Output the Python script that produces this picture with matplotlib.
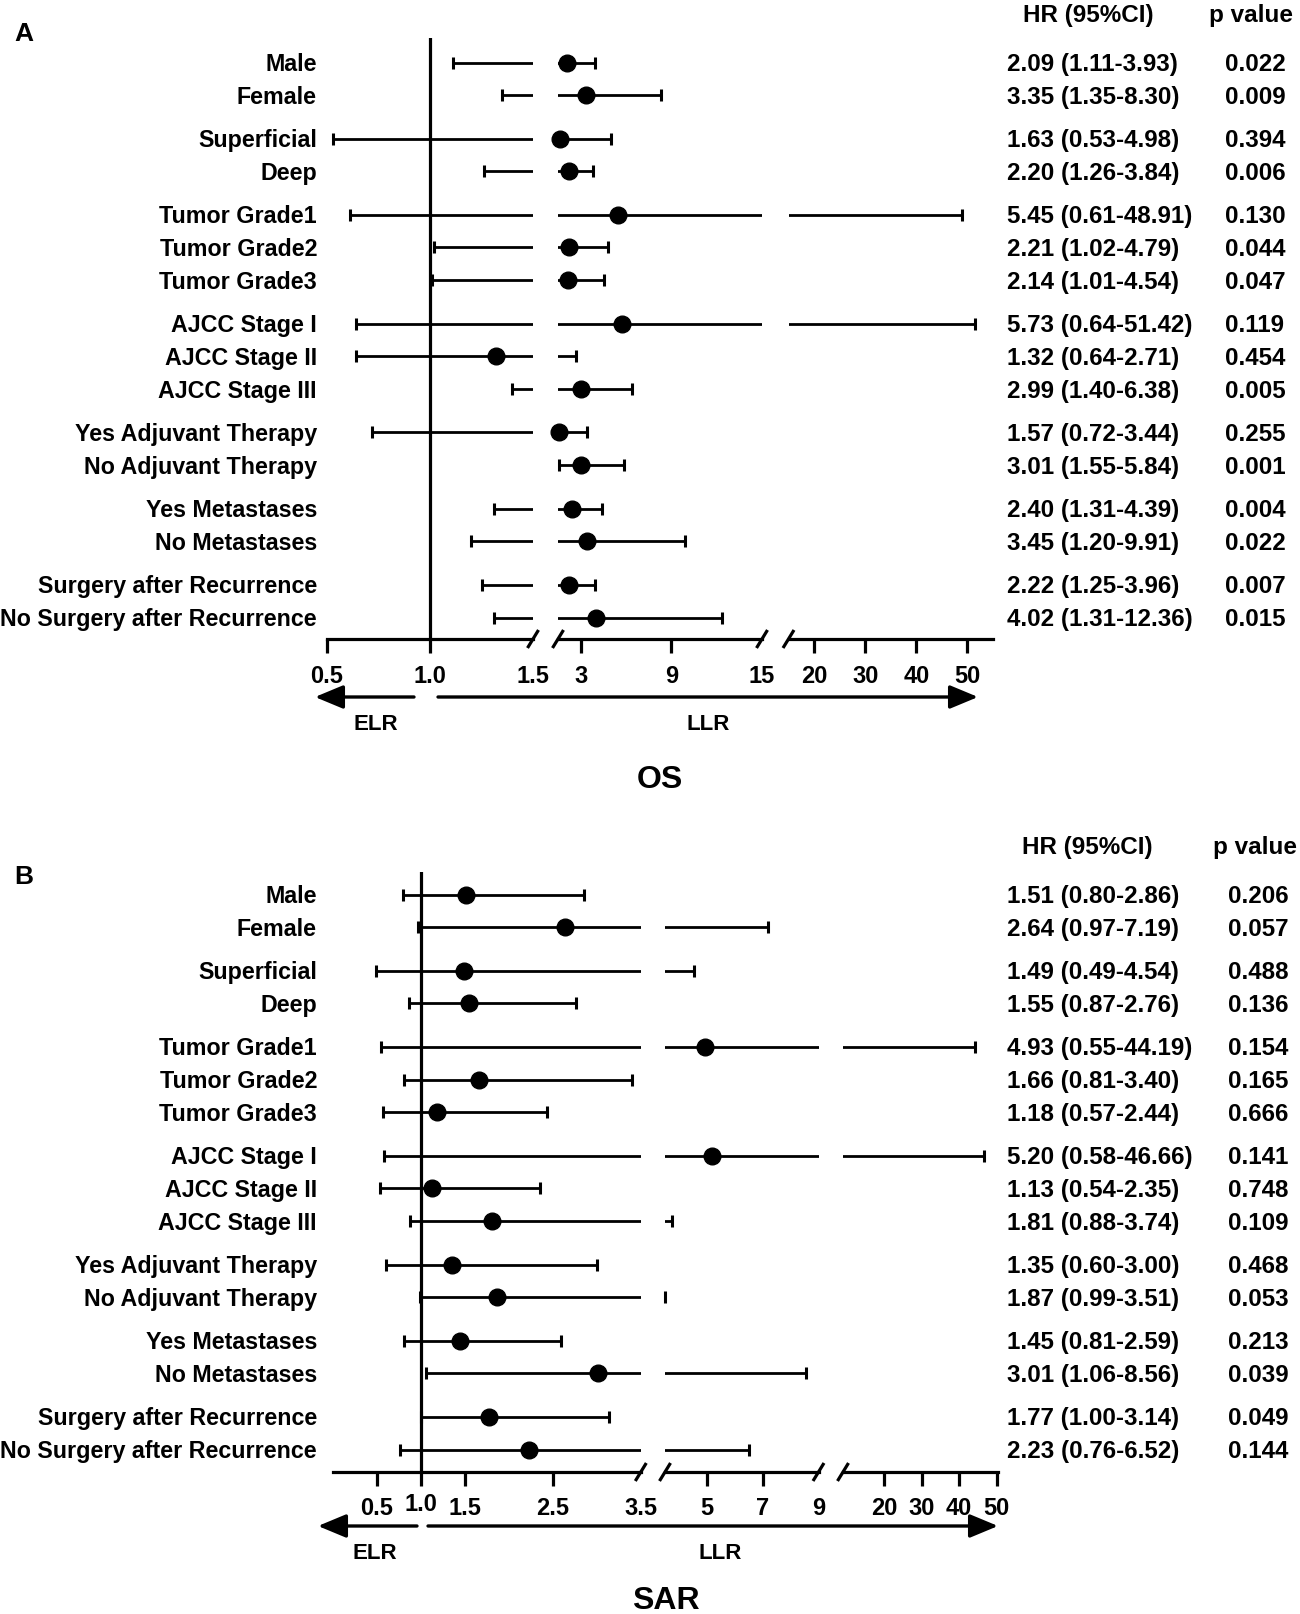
import matplotlib
matplotlib.use("Agg")
import matplotlib.pyplot as plt
import matplotlib.transforms as mtransforms
from matplotlib.patches import FancyArrowPatch
import numpy as np

plt.rcParams['font.family'] = ['Liberation Sans', 'DejaVu Sans']
plt.rcParams['font.weight'] = 'bold'

# ---------------- data ----------------
labels = ["Male", "Female", "Superficial", "Deep", "Tumor Grade1", "Tumor Grade2",
          "Tumor Grade3", "AJCC Stage I", "AJCC Stage II", "AJCC Stage III",
          "Yes Adjuvant Therapy", "No Adjuvant Therapy", "Yes Metastases",
          "No Metastases", "Surgery after Recurrence", "No Surgery after Recurrence"]
groups = [0, 0, 1, 1, 2, 2, 2, 3, 3, 3, 4, 4, 5, 5, 6, 6]

os_hr = [2.09, 3.35, 1.63, 2.20, 5.45, 2.21, 2.14, 5.73, 1.32, 2.99, 1.57, 3.01, 2.40, 3.45, 2.22, 4.02]
os_lo = [1.11, 1.35, 0.53, 1.26, 0.61, 1.02, 1.01, 0.64, 0.64, 1.40, 0.72, 1.55, 1.31, 1.20, 1.25, 1.31]
os_hi = [3.93, 8.30, 4.98, 3.84, 48.91, 4.79, 4.54, 51.42, 2.71, 6.38, 3.44, 5.84, 4.39, 9.91, 3.96, 12.36]
os_p = ["0.022", "0.009", "0.394", "0.006", "0.130", "0.044", "0.047", "0.119",
        "0.454", "0.005", "0.255", "0.001", "0.004", "0.022", "0.007", "0.015"]

sar_hr = [1.51, 2.64, 1.49, 1.55, 4.93, 1.66, 1.18, 5.20, 1.13, 1.81, 1.35, 1.87, 1.45, 3.01, 1.77, 2.23]
sar_lo = [0.80, 0.97, 0.49, 0.87, 0.55, 0.81, 0.57, 0.58, 0.54, 0.88, 0.60, 0.99, 0.81, 1.06, 1.00, 0.76]
sar_hi = [2.86, 7.19, 4.54, 2.76, 44.19, 3.40, 2.44, 46.66, 2.35, 3.74, 3.00, 3.51, 2.59, 8.56, 3.14, 6.52]
sar_p = ["0.206", "0.057", "0.488", "0.136", "0.154", "0.165", "0.666", "0.141",
         "0.748", "0.109", "0.468", "0.053", "0.213", "0.039", "0.049", "0.144"]

# axis segments (broken axis): data ranges
os_ranges = [(0.5, 1.5), (1.5, 15), (15, 55)]
os_ticks = [[0.5, 1.0, 1.5], [3, 9, 15], [20, 30, 40, 50]]
os_ticklabels = [["0.5", "1.0", "1.5"], ["3", "9", "15"], ["20", "30", "40", "50"]]
os_hidden = [1.5, 15]

sar_ranges = [(0, 3.5), (3.5, 9), (9, 50.4)]
sar_ticks = [[0.5, 1.0, 1.5, 2.5, 3.5], [5, 7, 9], [20, 30, 40, 50]]
sar_ticklabels = [["0.5", "1.0", "1.5", "2.5", "3.5"], ["5", "7", "9"], ["20", "30", "40", "50"]]
sar_hidden = [3.5, 9]

# ---------------- layout ----------------
W, H = 1300, 1614
fig = plt.figure(figsize=(W / 100, H / 100), dpi=100)
FS = 17
LW = 2.3


def fx(x):
    return x / W


def fy(y):
    return 1 - y / H


def panel(top_px, axis_px, row0_px, rowN_px, seg_px, ranges, ticks, ticklabels, hidden,
          hr, lo, hi, pv, tick_pad, hr_x, p_x, raise_one=False):
    hr = np.array(hr); lo = np.array(lo); hi = np.array(hi)
    pos = np.arange(len(labels)) + 0.3125 * np.array(groups)
    u = (rowN_px - row0_px) / pos[-1]
    ylim = (pos[-1] + (axis_px - rowN_px) / u, -(row0_px - top_px) / u)
    axes = []
    nseg = len(ranges)
    for i, ((a, b), (x0, x1)) in enumerate(zip(ranges, seg_px)):
        ax = fig.add_axes([fx(x0), fy(axis_px), (x1 - x0) / W, (axis_px - top_px) / H])
        ax.set_xlim(a, b)
        ax.set_ylim(ylim)
        ax.patch.set_visible(False)
        for s in ['top', 'right', 'left']:
            ax.spines[s].set_visible(False)
        ax.spines['bottom'].set_linewidth(LW)
        ax.set_yticks([])
        # CI lines (clipped to the segment)
        ax.hlines(pos, lo, hi, color='black', lw=2.0)
        # caps only where the CI end lies inside this segment
        ends = np.concatenate([lo, hi])
        epos = np.concatenate([pos, pos])
        if i == 0:
            me = (ends >= a) & (ends <= b)
        else:
            me = (ends > a) & (ends <= b)
        ax.plot(ends[me], epos[me], linestyle='none', marker='|', ms=9.2, mew=2.2,
                color='black', clip_on=False, zorder=3)
        if i == 0:
            m = (hr >= a) & (hr <= b)
        else:
            m = (hr > a) & (hr <= b)
        ax.plot(hr[m], pos[m], 'o', color='black', ms=12, clip_on=False, zorder=4)
        if i == 0:
            ax.axvline(1.0, color='black', lw=LW)
        ax.set_xticks(ticks[i])
        ax.set_xticklabels(ticklabels[i], fontsize=FS, fontweight='bold')
        ax.tick_params(axis='x', length=10, width=LW, pad=tick_pad, color='black')
        for t, v in zip(ax.xaxis.get_major_ticks(), ticks[i]):
            if v in hidden:
                t.tick1line.set_visible(False)
            if raise_one and v == 1.0:
                t.set_pad(tick_pad - 3)
        dx = 5.5 / (x1 - x0)
        dy = 9.0 / (axis_px - top_px)
        if i > 0:
            ax.plot([-dx, dx], [-dy, dy], transform=ax.transAxes, color='black',
                    lw=LW, clip_on=False, solid_capstyle='butt')
        if i < nseg - 1:
            ax.plot([1 - dx, 1 + dx], [-dy, dy], transform=ax.transAxes, color='black',
                    lw=LW, clip_on=False, solid_capstyle='butt')
        axes.append(ax)
    ax1 = axes[0]
    tr = mtransforms.blended_transform_factory(fig.transFigure, ax1.transData)
    tr = mtransforms.offset_copy(tr, fig=fig, y=-6.1, units='points')
    for i, lab in enumerate(labels):
        ax1.text(fx(317), pos[i], lab, transform=tr, ha='right', va='baseline',
                 fontsize=16.75, fontweight='bold')
        ax1.text(fx(hr_x), pos[i], f"{hr[i]:.2f} ({lo[i]:.2f}-{hi[i]:.2f})", transform=tr,
                 ha='left', va='baseline', fontsize=17.4, fontweight='bold')
        ax1.text(fx(p_x), pos[i], pv[i], transform=tr, ha='left', va='baseline',
                 fontsize=17.4, fontweight='bold')
    return axes


panel(38.3, 639, 62.5, 617.5,
      [(327, 533), (558, 762), (788.5, 993)],
      os_ranges, os_ticks, os_ticklabels, os_hidden,
      os_hr, os_lo, os_hi, os_p, tick_pad=9, hr_x=1007, p_x=1225)

panel(871.7, 1472, 894.5, 1449.5,
      [(332.7, 640.8), (665, 818.5), (843, 998)],
      sar_ranges, sar_ticks, sar_ticklabels, sar_hidden,
      sar_hr, sar_lo, sar_hi, sar_p, tick_pad=8.3, hr_x=1007, p_x=1228, raise_one=True)


def arrow(x_tail, x_tip, y):
    a = FancyArrowPatch((fx(x_tail), fy(y)), (fx(x_tip), fy(y)), transform=fig.transFigure,
                        arrowstyle='-|>,head_length=1.73,head_width=0.72', mutation_scale=10,
                        lw=2.4, color='black', shrinkA=0, shrinkB=0)
    fig.add_artist(a)


arrow(414, 315, 697)
arrow(438, 978, 697)
arrow(417, 318, 1526)
arrow(428, 998, 1526)


def ftext(x, y, s, size, ha='center'):
    fig.text(fx(x), fy(y), s, ha=ha, va='baseline', fontsize=size, fontweight='bold')


# headers
ftext(1088, 21.7, "HR (95%CI)", 17.5)
ftext(1251, 21.7, "p value", 17.5)
ftext(1087, 854, "HR (95%CI)", 17.5)
ftext(1255, 854, "p value", 17.5)

# panel letters
ftext(14, 41, "A", 19, ha='left')
ftext(14, 884.5, "B", 19, ha='left')

# direction labels
ftext(376, 729.7, "ELR", 16)
ftext(708, 729.7, "LLR", 16)
ftext(375, 1558.7, "ELR", 16)
ftext(720, 1558.7, "LLR", 16)

# titles
ftext(660, 788, "OS", 23)
ftext(666, 1609, "SAR", 23)

fig.savefig("out.png", dpi=100)
